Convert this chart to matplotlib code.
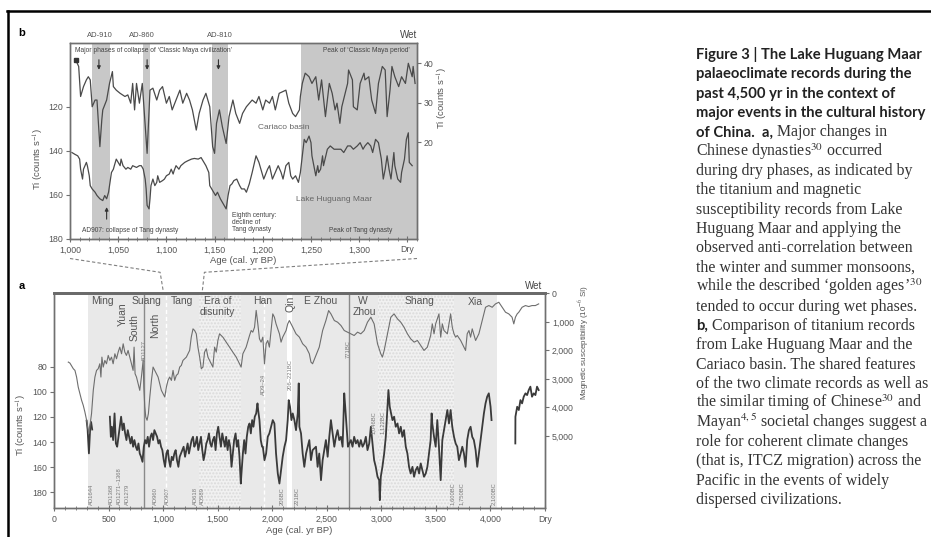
import matplotlib
matplotlib.use("Agg")
import matplotlib.pyplot as plt
from matplotlib.lines import Line2D
from matplotlib.ticker import FuncFormatter, MultipleLocator
import numpy as np

plt.rcParams['font.family'] = ['Liberation Sans', 'DejaVu Sans']
plt.rcParams['mathtext.fontset'] = 'stix'

# ---------------- panel b data (AD 1000-1360 window) ----------------
cariaco_age = [1006, 1009, 1011, 1014, 1017, 1019, 1021, 1023, 1026, 1028,
               1031, 1033, 1034, 1038, 1041, 1044, 1045, 1048, 1052, 1057,
               1060, 1063, 1065, 1067, 1069, 1072, 1075, 1080, 1083, 1086,
               1090, 1093, 1096, 1100, 1103, 1106, 1110, 1114, 1117, 1121,
               1124, 1127, 1131, 1134, 1138, 1141, 1145, 1148, 1150, 1152,
               1155, 1158, 1162, 1165, 1169, 1172, 1176, 1179, 1183, 1189,
               1193, 1196, 1200, 1203, 1207, 1210, 1213, 1217, 1224, 1227,
               1231, 1234, 1238, 1239, 1241, 1244, 1248, 1251, 1255, 1258,
               1261, 1265, 1269, 1272, 1275, 1277, 1280, 1282, 1288, 1289,
               1293, 1294, 1298, 1301, 1305, 1306, 1310, 1313, 1317, 1320,
               1324, 1327, 1329, 1332, 1334, 1337, 1341, 1344, 1348, 1351,
               1355, 1356, 1358]
cariaco_ti = [40.8, 39.2, 31.6, 34.1, 35.8, 36.6, 35.8, 29.0, 30.7, 30.7,
              18.9, 25.7, 28.2, 30.7, 34.9, 37.9, 34.1, 33.2, 32.4, 31.6,
              32.0, 29.9, 34.9, 28.2, 34.9, 29.9, 34.9, 17.2, 33.2, 33.7,
              30.7, 33.2, 34.1, 29.9, 31.6, 28.2, 30.7, 33.2, 29.9, 32.4,
              30.7, 28.2, 23.1, 27.3, 30.7, 32.4, 29.0, 18.9, 17.2, 24.8,
              28.2, 24.0, 19.7, 26.5, 30.7, 27.3, 24.8, 27.3, 29.0, 30.7,
              29.9, 31.6, 28.2, 30.7, 29.9, 31.6, 28.2, 32.4, 33.2, 29.9,
              27.3, 26.5, 28.2, 31.6, 34.9, 37.5, 36.6, 34.9, 36.6, 30.7,
              35.8, 26.5, 34.9, 32.4, 28.2, 29.9, 24.8, 29.0, 34.9, 38.3,
              35.8, 29.0, 28.2, 34.9, 37.5, 35.8, 36.6, 30.7, 27.3, 34.9,
              39.2, 38.3, 26.5, 33.2, 39.2, 36.6, 34.1, 36.6, 34.9, 40.0,
              36.6, 39.2, 34.9]

huguang_b_age = [1002, 1005, 1008, 1010, 1011, 1013, 1014, 1017, 1018, 1020,
                 1021, 1023, 1026, 1028, 1031, 1034, 1036, 1038, 1040, 1041,
                 1043, 1045, 1046, 1048, 1050, 1052, 1053, 1055, 1058, 1060,
                 1063, 1065, 1069, 1072, 1074, 1076, 1078, 1079, 1080, 1082,
                 1083, 1084, 1086, 1088, 1090, 1091, 1093, 1096, 1098, 1100,
                 1103, 1105, 1107, 1108, 1110, 1113, 1115, 1119, 1122, 1126,
                 1129, 1133, 1136, 1138, 1141, 1144, 1145, 1148, 1151, 1153,
                 1156, 1158, 1160, 1162, 1164, 1166, 1168, 1170, 1173, 1176,
                 1178, 1181, 1183, 1186, 1189, 1193, 1196, 1199, 1201, 1205,
                 1207, 1210, 1213, 1216, 1219, 1221, 1224, 1227, 1229, 1231,
                 1234, 1237, 1239, 1241, 1243, 1245, 1248, 1250, 1251, 1253,
                 1255, 1257, 1258, 1260, 1262, 1263, 1267, 1270, 1274, 1277,
                 1281, 1284, 1288, 1291, 1294, 1298, 1301, 1304, 1306, 1309,
                 1312, 1314, 1317, 1320, 1323, 1325, 1327, 1329, 1331, 1333,
                 1336, 1337, 1340, 1343, 1344, 1347, 1349, 1351, 1352, 1355]
huguang_b_ti = [140.8, 141.6, 142.3, 143.8, 148.4, 152.9, 148.4, 145.3, 146.8, 151.4,
                155.9, 157.4, 158.9, 160.4, 161.9, 162.7, 160.4, 161.9, 158.9, 155.9,
                149.9, 148.4, 146.8, 143.8, 145.3, 146.8, 143.8, 146.8, 148.4, 147.6,
                148.4, 146.8, 147.6, 146.8, 146.8, 148.4, 152.9, 157.4, 164.9, 166.5,
                161.9, 155.9, 152.9, 155.9, 154.4, 151.4, 154.4, 153.6, 152.9, 151.4,
                150.6, 148.4, 150.6, 149.1, 146.8, 148.4, 146.8, 145.3, 144.6, 143.8,
                143.5, 143.8, 143.1, 144.6, 146.8, 149.9, 155.9, 158.2, 160.4, 158.9,
                161.9, 163.4, 164.9, 166.5, 160.4, 155.9, 155.1, 153.6, 152.9, 155.9,
                157.4, 157.4, 158.9, 155.1, 149.9, 142.3, 145.3, 149.9, 152.9, 148.4,
                146.8, 152.9, 149.9, 146.8, 149.9, 152.9, 146.8, 145.3, 151.4, 152.9,
                151.4, 154.4, 149.9, 142.3, 134.8, 136.3, 133.3, 136.3, 142.3, 146.8,
                151.4, 146.8, 149.9, 148.4, 142.3, 146.8, 139.3, 137.8, 139.3, 139.3,
                139.3, 140.8, 137.8, 137.8, 139.3, 137.8, 136.3, 139.3, 137.8, 136.3,
                137.8, 140.8, 134.8, 136.3, 143.8, 152.9, 148.4, 142.3, 148.4, 152.9,
                140.8, 146.8, 152.9, 154.4, 149.9, 143.8, 134.8, 131.8, 145.3, 146.8]

maya_band_start = [1023, 1076, 1147]
maya_band_end = [1041, 1083, 1164]
maya_peak = [1240, 1360]
maya_labels = ['AD-910', 'AD-860', 'AD-810']
maya_label_age = [1031, 1075, 1155]
maya_arrow_age = [1030, 1080, 1154]

# ---------------- panel a data (0-4500 cal. yr BP) ----------------
magsus_age = [131, 146, 177, 192, 207, 222, 238, 253, 268, 283,
              299, 308, 320, 344, 360, 375, 390, 405, 420, 430,
              439, 451, 466, 481, 497, 512, 527, 542, 558, 573,
              588, 603, 619, 634, 649, 664, 679, 695, 710, 725,
              734, 743, 756, 771, 786, 801, 817, 823, 832, 841,
              853, 865, 878, 893, 908, 923, 938, 954, 969, 984,
              999, 1015, 1030, 1045, 1060, 1076, 1091, 1106, 1121, 1137,
              1152, 1167, 1182, 1213, 1243, 1258, 1274, 1289, 1304, 1319,
              1335, 1350, 1365, 1380, 1396, 1411, 1426, 1441, 1456, 1472,
              1487, 1502, 1517, 1548, 1578, 1609, 1639, 1670, 1700, 1715,
              1731, 1761, 1792, 1807, 1822, 1838,
              1853, 1868, 1883, 1898, 1914, 1929, 1944, 1959, 1974, 1989,
              2005, 2020, 2035, 2066, 2081, 2096, 2127, 2142, 2157, 2172,
              2188, 2218, 2249, 2279, 2310, 2340,
              2355, 2370, 2401, 2431, 2462, 2492, 2517, 2538, 2569, 2599,
              2630, 2660, 2690, 2721, 2751, 2782, 2812, 2843, 2873, 2904,
              2934, 2965, 2995, 3010, 3026, 3056, 3087, 3117, 3148, 3178,
              3208, 3239, 3269, 3300, 3331, 3361, 3391, 3422, 3452, 3467,
              3483, 3498, 3528, 3544, 3559, 3574, 3605, 3635, 3650, 3666,
              3681, 3696, 3727, 3757, 3772, 3787, 3803, 3818, 3833, 3864,
              3894, 3924, 3955, 3985, 4016, 4046, 4077, 4107, 4138, 4168,
              4198, 4214, 4229,
              4245, 4260, 4290, 4321, 4351, 4381, 4412, 4442]
magsus_val = [2412, 2448, 2646, 2704, 2937, 3287, 3520, 3753, 3928, 4161,
              4453, 4686, 4919, 4220, 3403, 2937, 2704, 2646, 2471, 2937,
              2238, 2587, 2354, 2471, 2179, 2354, 2238, 2471, 2121, 2296,
              2063, 1888, 2121, 1771, 2063, 2179, 2004, 2238, 2471, 2704,
              1888, 2821, 2937, 3170, 3403, 2937, 2354, 3287, 3986, 4336,
              4453, 4220, 3636, 3054, 2587, 2704, 2821, 2937, 3170, 3403,
              3520, 3636, 3287, 3054, 2937, 3054, 2704, 3054, 2879, 2821,
              2587, 2529, 2354, 2238, 2004, 1538, 1247, 1305, 1421, 1888,
              2238, 2646, 2587, 2063, 1946, 2238, 2354, 2471, 2587, 1888,
              2063, 1655, 1421, 1538, 1713, 1888, 2063, 2238, 2471, 2587,
              2121, 1888, 1480, 1305, 1363, 1188,
              600, 1072, 1596, 1713, 1538, 2471, 1771, 1655, 1888, 1305,
              722, 838, 1072, 1421, 1713, 1538, 1305, 1072, 955, 1072,
              1188, 1421, 1538, 1771, 1888, 2121,
              2413, 2471, 2179, 1888, 1305, 955, 605, 722, 955, 1013,
              1130, 1305, 1363, 1421, 1480, 1363, 1421, 1305, 1013, 838,
              1072, 1771, 2121, 2238, 2004, 1421, 838, 722, 897, 1013,
              1188, 1421, 1596, 1713, 1655, 1830, 2004, 1888, 1480, 1072,
              1421, 1072, 722, 1538, 1072, 1305, 1421, 722, 1188, 1421,
              1538, 1480, 1655, 1888, 2004, 1421, 1305, 1538, 1247, 1655,
              1421, 955, 489, 430, 489, 372, 314, 489, 663, 722,
              838, 1072, 838,
              722, 663, 489, 430, 465, 430, 430, 372]

ti_age_1 = [299, 308, 314, 320, 326, 332, 340, 350]
ti_val_1 = [123, 130, 140, 149, 138, 128, 124, 130]
ti_age_2 = [512, 521, 530, 542, 555, 567, 579, 591, 603, 615,
            628, 640, 652, 664, 676, 689, 701, 713, 725, 737,
            750, 762, 774, 786, 798, 811, 823, 835, 847, 859,
            871, 884, 896, 908, 920, 932, 945, 957, 969, 981,
            993, 1006, 1018, 1030, 1042, 1054, 1066, 1079, 1091, 1103,
            1115, 1127, 1140, 1152, 1164, 1176, 1188, 1201, 1213, 1225,
            1237, 1249, 1261, 1274, 1286, 1298, 1310, 1322, 1335, 1347,
            1359, 1371, 1383, 1396, 1408, 1420, 1432, 1444, 1456, 1469,
            1481, 1493, 1505, 1517, 1530, 1542, 1554, 1566, 1578, 1591,
            1603, 1615, 1627, 1639, 1651, 1664, 1676, 1688, 1700, 1712,
            1718, 1731, 1743, 1755, 1767, 1780, 1792, 1804, 1816, 1828,
            1840, 1853, 1865, 1871, 1883, 1895, 1907,
            1914, 1929, 1944, 1959, 1974, 1989, 2005, 2020, 2035, 2051,
            2066, 2081, 2096, 2112, 2127, 2142, 2151, 2163, 2176, 2188,
            2203, 2218, 2234, 2243, 2249, 2264, 2279, 2294, 2310, 2325,
            2340,
            2355, 2370, 2401, 2416, 2431, 2447, 2462, 2477, 2492, 2508,
            2523, 2538, 2553, 2569, 2584, 2599, 2614, 2630, 2645, 2660,
            2669, 2681, 2694, 2706, 2721, 2736, 2751, 2767, 2782, 2797,
            2812, 2828, 2843, 2858, 2873, 2889, 2904, 2919, 2934, 2949,
            2965, 2980, 2986, 2995, 3010, 3026, 3041, 3056, 3065, 3077,
            3089, 3102, 3117, 3132, 3148, 3163, 3178, 3193, 3208, 3224,
            3239, 3254, 3269, 3285, 3300, 3315, 3331, 3346, 3361, 3376,
            3391, 3407, 3422, 3437, 3452, 3461, 3467, 3483, 3498, 3513,
            3528, 3544, 3559, 3574, 3589, 3605, 3620, 3635, 3650, 3666,
            3681, 3696, 3711, 3727, 3742, 3757, 3772, 3787, 3803, 3818,
            3833, 3848, 3864, 3879, 3894, 3909, 3924, 3940, 3955, 3970,
            3985, 4001, 4010]
ti_val_2 = [119.8, 135.8, 127.8, 138.4, 117.2, 141.1, 143.7, 135.8, 127.8, 119.8,
            130.5, 125.2, 133.1, 138.4, 130.5, 135.8, 141.1, 135.8, 143.7, 138.4,
            143.7, 146.4, 141.1, 149.1, 151.7, 155.7, 143.7, 138.4, 141.1, 135.8,
            143.7, 135.8, 133.1, 138.4, 130.5, 133.1, 135.8, 141.1, 138.4, 143.7,
            146.4, 154.4, 159.7, 149.1, 146.4, 154.4, 159.7, 151.7, 154.4, 149.1,
            146.4, 154.4, 159.7, 151.7, 149.1, 146.4, 143.7, 151.7, 146.4, 141.1,
            149.1, 143.7, 138.4, 135.8, 143.7, 141.1, 135.8, 146.4, 141.1, 135.8,
            146.4, 154.4, 149.1, 141.1, 138.4, 133.1, 141.1, 143.7, 138.4, 135.8,
            146.4, 133.1, 127.8, 135.8, 143.7, 133.1, 138.4, 143.7, 135.8, 146.4,
            138.4, 143.7, 159.7, 149.1, 138.4, 133.1, 143.7, 138.4, 151.7, 173.0,
            165.0, 149.1, 138.4, 149.1, 135.8, 127.8, 125.2, 133.1, 122.5, 127.8,
            119.8, 117.2, 109.2, 114.5, 122.5, 138.4, 143.7,
            143.7, 154.4, 149.1, 135.8, 133.1, 127.8, 122.5, 125.2, 149.1, 165.0,
            173.0, 162.3, 151.7, 143.7, 138.4, 122.5, 106.6, 111.9, 122.5, 117.2,
            122.5, 130.5, 117.2, 93.3, 127.8, 133.1, 149.1, 159.7, 149.1, 143.7,
            138.4,
            154.4, 146.4, 143.7, 159.7, 149.1, 170.3, 154.4, 146.4, 138.4, 151.7,
            135.8, 122.5, 133.1, 143.7, 135.8, 130.5, 138.4, 135.8, 143.7, 101.2,
            111.9, 127.8, 143.7, 141.1, 138.4, 143.7, 135.8, 141.1, 138.4, 143.7,
            138.4, 143.7, 141.1, 135.8, 146.4, 141.1, 127.8, 141.1, 154.4, 159.7,
            167.6, 170.3, 186.2, 167.6, 159.7, 149.1, 135.8, 111.9, 98.6, 111.9,
            117.2, 122.5, 119.8, 127.8, 125.2, 133.1, 127.8, 135.8, 130.5, 143.7,
            149.1, 159.7, 165.0, 159.7, 167.6, 162.3, 159.7, 165.0, 157.0, 162.3,
            167.6, 165.0, 159.7, 149.1, 138.4, 117.2, 125.2, 135.8, 143.7, 122.5,
            143.7, 170.3, 138.4, 130.5, 122.5, 114.5, 125.2, 114.5, 127.8, 135.8,
            141.1, 143.7, 154.4, 149.1, 143.7, 149.1, 159.7, 138.4, 130.5, 127.8,
            135.8, 138.4, 146.4, 159.7, 149.1, 138.4, 127.8, 117.2, 109.2, 103.9,
            101.2, 111.9, 122.5]
ti_age_3 = [4228, 4229, 4245, 4260, 4275, 4290, 4305, 4321, 4336, 4351,
            4366, 4381, 4397, 4412, 4427, 4442]
ti_val_3 = [141.1, 119.8, 111.9, 114.5, 106.6, 109.2, 103.9, 101.2, 102.6, 98.6,
            95.9, 103.9, 101.2, 102.6, 95.9, 98.6]

era_start = [310, 1030, 1328, 1715, 2185, 2706, 2965, 3665]
era_end = [1030, 1328, 1715, 2140, 2706, 2965, 3665, 4056]
era_dotted = [False, False, True, False, False, False, True, False]
era_names = ['Ming', 'Yuan', 'Suang', 'South', 'North', 'Tang', 'Era of', 'disunity',
             'Han', 'Qin', 'E Zhou', 'W', 'Zhou', 'Shang', 'Xia']
era_name_age = [448, 631, 850, 740, 923, 1170, 1499, 1499,
                1910, 2163, 2447, 2834, 2843, 3346, 3864]
era_name_y = [0.965, 0.905, 0.965, 0.84, 0.85, 0.965, 0.965, 0.915,
              0.965, 0.95, 0.965, 0.965, 0.915, 0.965, 0.96]
era_name_rot = [0, 90, 0, 90, 90, 0, 0, 0, 0, 90, 0, 0, 0, 0, 0]

date_labels = ['AD1644', 'AD1368', 'AD1271–1368', 'AD1279', 'AD960', 'AD907',
               'AD618', 'AD589', '206BC', '221BC', '1,600BC', '1,750BC', '2,100BC']
date_label_age = [345, 528, 604, 671, 934, 1041, 1300, 1362, 2088, 2225,
                  3654, 3736, 4029]
mid_labels = ['AD1127', 'AD9–24', '206–221BC', '771BC', '1,046BC', '1,122BC']
mid_label_age = [832, 1920, 2163, 2697, 2925, 3012]
mid_label_y = [0.735, 0.575, 0.62, 0.74, 0.40, 0.40]
boundary_lines = [823, 2706]
white_lines = [1030, 1925]

caption = [
    ("Figure 3 | The Lake Huguang Maar", ""),
    ("palaeoclimate records during the", ""),
    ("past 4,500 yr in the context of", ""),
    ("major events in the cultural history", ""),
    ("of China.  a,", " Major changes in"),
    ("", "Chinese dynasties$^{30}$ occurred"),
    ("", "during dry phases, as indicated by"),
    ("", "the titanium and magnetic"),
    ("", "susceptibility records from Lake"),
    ("", "Huguang Maar and applying the"),
    ("", "observed anti-correlation between"),
    ("", "the winter and summer monsoons,"),
    ("", "while the described \u2018golden ages\u2019$^{30}$"),
    ("", "tended to occur during wet phases."),
    ("b,", " Comparison of titanium records"),
    ("", "from Lake Huguang Maar and the"),
    ("", "Cariaco basin. The shared features"),
    ("", "of the two climate records as well as"),
    ("", "the similar timing of Chinese$^{30}$ and"),
    ("", "Mayan$^{4,5}$ societal changes suggest a"),
    ("", "role for coherent climate changes"),
    ("", "(that is, ITCZ migration) across the"),
    ("", "Pacific in the events of widely"),
    ("", "dispersed civilizations."),
]

# ---------------- figure ----------------
W, H = 931, 537
fig = plt.figure(figsize=(W / 100, H / 100), dpi=100)


def fx(px):
    return px / W


def fy(py):
    return 1 - py / H


TXT = '#555555'
SPINE = '#707070'

ax_b = fig.add_axes([fx(70), fy(238.5), (417 - 70) / W, (238.5 - 43.3) / H])
ax_b2 = ax_b.twinx()
ax_a = fig.add_axes([fx(54), fy(508.3), (545 - 54) / W, (508.3 - 293.3) / H])
ax_a2 = ax_a.twinx()

for ax in (ax_b, ax_b2, ax_a, ax_a2):
    for s in ax.spines.values():
        s.set_color(SPINE)
        s.set_linewidth(1.0)
    ax.tick_params(colors=SPINE, labelcolor=TXT, labelsize=6.3, width=0.8)

# ---- panel b ----
for s0, s1 in zip(maya_band_start, maya_band_end):
    ax_b.axvspan(s0, s1, color='#c8c8c8', lw=0, zorder=0)
ax_b.axvspan(maya_peak[0], maya_peak[1], color='#c8c8c8', lw=0, zorder=0)
ax_b.plot(huguang_b_age, huguang_b_ti, color='#4a4a4a', lw=0.9)
ax_b2.plot(cariaco_age, cariaco_ti, color='#4a4a4a', lw=0.9)
ax_b2.plot(cariaco_age[0], cariaco_ti[0], 's', color='#333333', ms=2.5)

ax_b.set_xlim(1000, 1360)
ax_b.set_ylim(180, 91)
ax_b2.set_ylim(-4.35, 45.06)
ax_b.set_yticks([120, 140, 160, 180])
ax_b2.set_yticks([20, 30, 40])
ax_b.xaxis.set_major_locator(MultipleLocator(50))
ax_b.xaxis.set_minor_locator(MultipleLocator(10))
ax_b.xaxis.set_major_formatter(FuncFormatter(
    lambda v, p: 'Dry' if v >= 1350 else f'{int(v):,}'))
ax_b.tick_params(axis='x', which='both', direction='inout', length=4, pad=3)
ax_b.tick_params(axis='x', which='minor', length=3, color=SPINE)
ax_b.tick_params(axis='y', direction='out', length=3, pad=2)
ax_b2.tick_params(axis='y', direction='out', length=3, pad=2)
ax_b.set_xlabel('Age (cal. yr BP)', fontsize=6.8, color=TXT, labelpad=1)
ax_b.text(-0.09, 0.41, 'Ti (counts s$^{-1}$)', transform=ax_b.transAxes,
          rotation=90, ha='center', va='center', fontsize=6.8, color=TXT)
ax_b2.text(1.075, 0.72, 'Ti (counts s$^{-1}$)', transform=ax_b2.transAxes,
           rotation=90, ha='center', va='center', fontsize=6.8, color=TXT)
ax_b.text(1.0, 1.015, 'Wet', transform=ax_b.transAxes, ha='right', va='bottom',
          fontsize=7, color='#444444')

tb = ax_b.get_xaxis_transform()
for lab, x in zip(maya_labels, maya_label_age):
    ax_b.text(x, 1.02, lab, transform=tb, ha='center', va='bottom',
              fontsize=5.5, color='#555555')
for x in maya_arrow_age:
    ax_b.annotate('', xy=(x, 0.85), xytext=(x, 0.93), xycoords=tb, textcoords=tb,
                  arrowprops=dict(arrowstyle='-|>', color='#333333', lw=0.8,
                                  mutation_scale=5))
ax_b.annotate('', xy=(1038, 0.175), xytext=(1038, 0.085), xycoords=tb, textcoords=tb,
              arrowprops=dict(arrowstyle='-|>', color='#333333', lw=0.8,
                              mutation_scale=5))
ax_b.text(1005, 0.965, "Major phases of collapse of \u2018Classic Maya civilization\u2019",
          transform=tb, ha='left', va='center', fontsize=4.8, color='#444444')
ax_b.text(1353, 0.965, "Peak of \u2018Classic Maya period\u2019", transform=tb,
          ha='right', va='center', fontsize=4.8, color='#444444')
ax_b.text(1222, 0.571, 'Cariaco basin', transform=tb, ha='center', va='center',
          fontsize=6, color='#666666')
ax_b.text(1274, 0.202, 'Lake Huguang Maar', transform=tb, ha='center', va='center',
          fontsize=6, color='#666666')
ax_b.text(1012, 0.04, 'AD907: collapse of Tang dynasty', transform=tb, ha='left',
          va='center', fontsize=4.8, color='#444444')
ax_b.text(1168, 0.135, 'Eighth century:\ndecline of\nTang dynasty', transform=tb,
          ha='left', va='top', fontsize=4.8, color='#444444', linespacing=0.95)
ax_b.text(1302, 0.04, 'Peak of Tang dynasty', transform=tb, ha='center',
          va='center', fontsize=4.8, color='#444444')

# ---- panel a ----
for s0, s1, dotted in zip(era_start, era_end, era_dotted):
    if dotted:
        ax_a.axvspan(s0, s1, facecolor='#f1f1f1', edgecolor='#dadada', hatch='.....',
                     lw=0, zorder=0)
    else:
        ax_a.axvspan(s0, s1, facecolor='#e9e9e9', lw=0, zorder=0)
for x in white_lines:
    ax_a.axvline(x, color='white', lw=1.0, ls=(0, (3, 2)), zorder=0.5)
for x in boundary_lines:
    ax_a.axvline(x, color='#8a8a8a', lw=1.0, zorder=0.6)

ti_age = ti_age_1 + [np.nan] + ti_age_2 + [np.nan] + ti_age_3
ti_val = ti_val_1 + [np.nan] + ti_val_2 + [np.nan] + ti_val_3
ax_a.plot(ti_age, ti_val, color='#3a3a3a', lw=1.3)
ax_a2.plot(magsus_age, magsus_val, color='#6e6e6e', lw=0.8)

ax_a.set_xlim(0, 4500)
ax_a.set_ylim(192.7, 21.6)
ax_a2.set_ylim(7540, 0)
ax_a.set_yticks([80, 100, 120, 140, 160, 180])
ax_a2.set_yticks([0, 1000, 2000, 3000, 4000, 5000])
ax_a2.yaxis.set_major_formatter(FuncFormatter(lambda v, p: f'{int(v):,}'))
ax_a.xaxis.set_major_locator(MultipleLocator(500))
ax_a.xaxis.set_minor_locator(MultipleLocator(100))
ax_a.xaxis.set_major_formatter(FuncFormatter(
    lambda v, p: 'Dry' if v >= 4500 else f'{int(v):,}'))
ax_a.tick_params(axis='x', which='both', direction='inout', length=4, pad=3)
ax_a.tick_params(axis='x', which='minor', length=3, color=SPINE)
ax_a.tick_params(axis='y', direction='out', length=3, pad=2)
ax_a2.tick_params(axis='y', direction='out', length=3, pad=2)
for ax in (ax_a, ax_a2):
    ax.spines['top'].set_linewidth(2.0)
    ax.spines['top'].set_color('#6a6a6a')
ax_a.set_xlabel('Age (cal. yr BP)', fontsize=6.8, color=TXT, labelpad=1)
ax_a.text(-0.066, 0.39, 'Ti (counts s$^{-1}$)', transform=ax_a.transAxes,
          rotation=90, ha='center', va='center', fontsize=6.8, color=TXT)
ax_a2.text(1.08, 0.77, 'Magnetic susceptibility (10$^{-6}$ SI)',
           transform=ax_a2.transAxes, rotation=90, ha='center', va='center',
           fontsize=5.8, color=TXT)
ax_a.text(0.995, 1.01, 'Wet', transform=ax_a.transAxes, ha='right', va='bottom',
          fontsize=7, color='#444444')

ta = ax_a.get_xaxis_transform()
for name, x, y, rot in zip(era_names, era_name_age, era_name_y, era_name_rot):
    ax_a.text(x, y, name, transform=ta, ha='center', va='center', rotation=rot,
              fontsize=7.5, color='#555555')
for lab, x in zip(date_labels, date_label_age):
    ax_a.text(x, 0.015, lab, transform=ta, ha='center', va='bottom', rotation=90,
              fontsize=4.2, color='#7a7a7a')
for lab, x, y in zip(mid_labels, mid_label_age, mid_label_y):
    ax_a.text(x, y, lab, transform=ta, ha='center', va='center', rotation=90,
              fontsize=4.2, color='#7a7a7a')

# ---- panel letters, frame, connectors ----
fig.text(fx(22), fy(33), 'b', fontsize=8, fontweight='bold', ha='center', va='center')
fig.text(fx(22), fy(286), 'a', fontsize=8, fontweight='bold', ha='center', va='center')
fig.add_artist(Line2D([fx(7), 1.0], [fy(10.5), fy(10.5)], transform=fig.transFigure,
                      color='black', lw=1.8))
fig.add_artist(Line2D([fx(7.5), fx(7.5)], [fy(10.5), 0.0], transform=fig.transFigure,
                      color='black', lw=1.8))

fig.canvas.draw()
inv = fig.transFigure.inverted()
for yr_b, yr_a, dx in [(1000, 1000, -3), (1360, 1360, 2)]:
    xb, yb = ax_b.transData.transform((yr_b, 180))
    xa, ya = ax_a.transData.transform((yr_a, 21.6))
    pts = np.array([[xb, yb - 20], [xa + dx, ya + 21], [xa, ya + 3]])
    fpts = inv.transform(pts)
    fig.add_artist(Line2D(fpts[:, 0], fpts[:, 1], transform=fig.transFigure,
                          color='#808080', lw=0.8, ls=(0, (3, 2))))

# ---- caption on the right ----
renderer = fig.canvas.get_renderer()
bold_kw = dict(family=['Lato', 'DejaVu Sans'], fontweight='bold', color='#222222')
serif_kw = dict(family=['Liberation Serif', 'DejaVu Serif'], color='#333333')


def fit_size(text, kw, target):
    t = fig.text(0, 0, text, fontsize=10, **kw)
    w = t.get_window_extent(renderer).width
    t.remove()
    return 10 * target / w


bold_size = fit_size("major events in the cultural history", bold_kw, 229)
serif_size = fit_size("of the two climate records as well as", serif_kw, 232)

x0 = 696
for i, (bold, plain) in enumerate(caption):
    yb = 59 + i * 19.35
    x = x0
    if bold:
        t = fig.text(fx(x), fy(yb), bold, fontsize=bold_size, va='baseline',
                     ha='left', **bold_kw)
        x += t.get_window_extent(renderer).width
    if plain:
        fig.text(fx(x), fy(yb), plain, fontsize=serif_size, va='baseline',
                 ha='left', **serif_kw)

fig.savefig('out.png', dpi=100)
